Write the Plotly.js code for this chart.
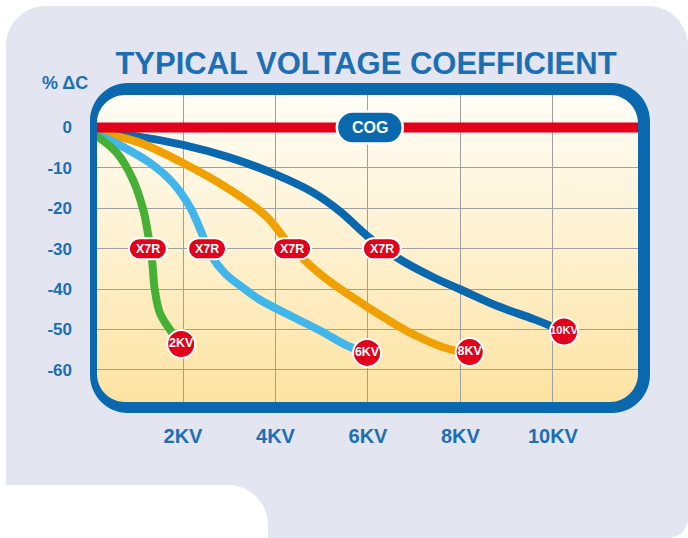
<!DOCTYPE html>
<html><head><meta charset="utf-8">
<script src="https://cdn.plot.ly/plotly-3.0.1.min.js"></script>
<style>html,body{margin:0;padding:0;background:#fff;}#chart{width:688px;height:538px;}</style>
</head><body><div id="chart"></div>
<script>
// ---------- data ----------
const xTickVals = [2, 4, 6, 8, 10];
const xTickText = ['2KV', '4KV', '6KV', '8KV', '10KV'];
const yTickVals = [0, -10, -20, -30, -40, -50, -60];
const yTickText = ['0', '-10', '-20', '-30', '-40', '-50', '-60'];

const cogKv = [0, 12];
const cogPct = [0, 0];

const kv2 = [0, 0.57, 0.92, 1.14, 1.24, 1.33, 1.39, 1.50, 1.72, 1.96];
const pct2 = [-1, -6.3, -13.0, -20.4, -26.1, -32.8, -40.2, -45.9, -50.1, -53.6];
const kv6 = [0, 0.70, 1.29, 1.78, 2.15, 2.40, 2.60, 2.90, 3.30, 3.67, 4.38, 5.00, 5.55, 5.98];
const pct6 = [-1, -4.8, -8.8, -13.7, -19.7, -26.0, -31.5, -36.0, -39.7, -42.7, -46.9, -50.5, -54.0, -55.8];
const kv8 = [0, 1.00, 2.00, 3.00, 3.80, 4.36, 5.00, 6.00, 7.00, 7.80, 8.20];
const pct8 = [-1, -3.5, -8.8, -15.3, -22.0, -29.8, -36.6, -44.5, -51.3, -55.0, -55.6];
const kv10 = [0, 1.00, 2.00, 3.00, 4.00, 4.80, 5.40, 6.00, 6.60, 7.40, 8.00, 8.80, 9.60, 10.24];
const pct10 = [-1, -2.2, -4.3, -7.4, -11.6, -16.0, -20.8, -27.0, -32.0, -37.0, -40.1, -44.2, -47.5, -50.5];
const endLabels = ['2KV', '6KV', '8KV', '10KV'];

const x7rKv = [1.24, 2.52, 4.36, 6.30];
const x7rPct = [-30, -30, -30, -30];
const x7rText = 'X7R';
const cogText = 'COG';
const cogLabelKv = 6.04;
const cogLabelPct = 0;

// ---------- styling ----------
const BLUE = '#0a69ae', TXT = '#1c6fb4', RED = '#e2001a';
const SANS = 'Liberation Sans, Arial, Helvetica, sans-serif';
const ML = 97, MR = 50, MT = 95, MB = 136, W = 688, H = 538;
const PB = H - MB; // plot bottom pixel

// page-pixel -> anchor-relative pixel (y up) for paper-anchored pixel shapes
const P = (x, y) => (x - ML) + ',' + (PB - y);
const Q = (x, y) => x + ',' + (-y);   // centred pill coords (screen-like) -> y up

function rr(l, t, r, b, rad, ccw, map) {
  const k = 0.5523 * rad;
  if (!ccw) {
    return 'M' + map(l + rad, t) + ' L' + map(r - rad, t) +
      ' C' + map(r - rad + k, t) + ' ' + map(r, t + rad - k) + ' ' + map(r, t + rad) +
      ' L' + map(r, b - rad) +
      ' C' + map(r, b - rad + k) + ' ' + map(r - rad + k, b) + ' ' + map(r - rad, b) +
      ' L' + map(l + rad, b) +
      ' C' + map(l + rad - k, b) + ' ' + map(l, b - rad + k) + ' ' + map(l, b - rad) +
      ' L' + map(l, t + rad) +
      ' C' + map(l, t + rad - k) + ' ' + map(l + rad - k, t) + ' ' + map(l + rad, t) + ' Z';
  }
  return 'M' + map(l + rad, t) +
    ' C' + map(l + rad - k, t) + ' ' + map(l, t + rad - k) + ' ' + map(l, t + rad) +
    ' L' + map(l, b - rad) +
    ' C' + map(l, b - rad + k) + ' ' + map(l + rad - k, b) + ' ' + map(l + rad, b) +
    ' L' + map(r - rad, b) +
    ' C' + map(r - rad + k, b) + ' ' + map(r, b - rad + k) + ' ' + map(r, b - rad) +
    ' L' + map(r, t + rad) +
    ' C' + map(r, t + rad - k) + ' ' + map(r - rad + k, t) + ' ' + map(r - rad, t) + ' Z';
}

const innerCCW = rr(97, 95, 638, 402, 28, true, P);
const outerCW = rr(90, 83, 650, 413, 38, false, P);
const kk = 0.5523;
const panel = 'M' + P(6, 46) +
  ' C' + P(6, 46 - 40 * kk) + ' ' + P(46 - 40 * kk, 6) + ' ' + P(46, 6) +
  ' L' + P(648, 6) +
  ' C' + P(648 + 40 * kk, 6) + ' ' + P(688, 46 - 40 * kk) + ' ' + P(688, 46) +
  ' L' + P(688, 518) +
  ' C' + P(688, 518 + 20 * kk) + ' ' + P(668 + 20 * kk, 538) + ' ' + P(668, 538) +
  ' L' + P(268, 538) + ' L' + P(268, 525) +
  ' C' + P(268, 525 - 40 * kk) + ' ' + P(228 + 40 * kk, 485) + ' ' + P(228, 485) +
  ' L' + P(6, 485) + ' Z ' + innerCCW;

const decoBase = {xref: 'paper', yref: 'paper', xsizemode: 'pixel', ysizemode: 'pixel', xanchor: 0, yanchor: 0};

const shapes = [
  Object.assign({type: 'path', path: panel, fillcolor: '#e3e5f1', line: {width: 0}, layer: 'below', fillrule: 'evenodd'}, decoBase),
  Object.assign({type: 'path', path: outerCW + ' ' + innerCCW, fillcolor: BLUE, line: {width: 0}, layer: 'above', fillrule: 'evenodd'}, decoBase)
];
// COG pill
shapes.push({type: 'path', xref: 'x', yref: 'y', xsizemode: 'pixel', ysizemode: 'pixel',
  xanchor: cogLabelKv, yanchor: cogLabelPct, path: rr(-33, -16, 33, 16, 16, false, Q),
  fillcolor: BLUE, line: {color: '#ffffff', width: 2.5}, layer: 'above'});
// X7R pills
x7rKv.forEach((xv, i) => shapes.push({type: 'path', xref: 'x', yref: 'y', xsizemode: 'pixel', ysizemode: 'pixel',
  xanchor: xv, yanchor: x7rPct[i], path: rr(-19, -10.5, 19, 10.5, 10.5, false, Q),
  fillcolor: RED, line: {color: '#ffffff', width: 2}, layer: 'above'}));

const annotations = [
  {xref: 'x', yref: 'y', x: cogLabelKv, y: cogLabelPct, text: cogText, showarrow: false,
   font: {family: SANS, size: 16, color: '#ffffff', weight: 700}, xanchor: 'center', yanchor: 'middle'},
  {xref: 'paper', yref: 'paper', x: (65 - ML) / (W - ML - MR), y: (PB - 83) / (H - MT - MB), text: '% ΔC', showarrow: false,
   font: {family: SANS, size: 18, color: TXT, weight: 700}, xanchor: 'center', yanchor: 'middle'}
];
x7rKv.forEach((xv, i) => annotations.push({xref: 'x', yref: 'y', x: xv, y: x7rPct[i], text: x7rText, showarrow: false,
  font: {family: SANS, size: 12.5, color: '#ffffff', weight: 700}, xanchor: 'center', yanchor: 'middle'}));

const curves = [
  {name: '10KV', x: kv10, y: pct10, color: BLUE},
  {name: '8KV', x: kv8, y: pct8, color: '#f0a000'},
  {name: '6KV', x: kv6, y: pct6, color: '#41b6ea'},
  {name: '2KV', x: kv2, y: pct2, color: '#45b035'}
];
const traces = curves.map(c => ({type: 'scatter', mode: 'lines', x: c.x, y: c.y, name: c.name,
  line: {color: c.color, width: 8, shape: 'spline', smoothing: 1}, hoverinfo: 'skip'}));
traces.push({type: 'scatter', mode: 'lines', x: cogKv, y: cogPct, name: 'COG', line: {color: RED, width: 10}, hoverinfo: 'skip'});
const order = ['2KV', '6KV', '8KV', '10KV'];
const ends = order.map(n => curves.find(c => c.name === n));
traces.push({type: 'scatter', mode: 'markers+text', cliponaxis: false,
  x: ends.map(c => c.x[c.x.length - 1]), y: ends.map(c => c.y[c.y.length - 1]), text: endLabels,
  textposition: 'middle center', textfont: {family: SANS, size: endLabels.map(t => t.length > 3 ? 11 : 12.5), color: '#ffffff', weight: 700},
  marker: {size: 28, color: RED, line: {color: '#ffffff', width: 2}}, hoverinfo: 'skip'});

const gradSvg = "<svg xmlns='http://www.w3.org/2000/svg' width='10' height='100' preserveAspectRatio='none'>" +
  "<defs><linearGradient id='g' x1='0' y1='0' x2='0' y2='1'>" +
  "<stop offset='0' stop-color='#fffdf6'/><stop offset='0.5' stop-color='#fff1cf'/><stop offset='1' stop-color='#fde3a2'/>" +
  "</linearGradient></defs><rect width='10' height='100' fill='url(#g)'/></svg>";

const layout = {
  width: W, height: H,
  margin: {l: ML, r: MR, t: MT, b: MB, pad: 0},
  paper_bgcolor: '#ffffff', plot_bgcolor: 'rgba(0,0,0,0)',
  showlegend: false, hovermode: false,
  title: {text: 'TYPICAL VOLTAGE COEFFICIENT', font: {family: SANS, size: 31, color: TXT, weight: 700},
    x: 366 / W, xanchor: 'center', xref: 'container', y: 1 - 63 / H, yref: 'container', yanchor: 'middle'},
  xaxis: {range: [0.14, 11.84], tickvals: xTickVals, ticktext: xTickText, showgrid: true, gridcolor: '#a0a0a0', gridwidth: 1,
    zeroline: false, showline: false, ticks: '', ticklabelstandoff: 20, fixedrange: true,
    tickfont: {family: SANS, size: 20, color: TXT, weight: 700}},
  yaxis: {range: [-67.95, 8.04], tickvals: yTickVals, ticktext: yTickText, showgrid: true, gridcolor: '#a0a0a0', gridwidth: 1,
    zeroline: false, showline: false, ticks: '', ticklabelstandoff: 24, fixedrange: true,
    tickfont: {family: SANS, size: 17, color: TXT, weight: 700}},
  images: [{source: 'data:image/svg+xml;charset=utf-8,' + encodeURIComponent(gradSvg), xref: 'paper', yref: 'paper',
    x: 0, y: 1, sizex: 1, sizey: 1, xanchor: 'left', yanchor: 'top', sizing: 'stretch', layer: 'below'}],
  shapes: shapes,
  annotations: annotations
};

Plotly.newPlot('chart', traces, layout, {displayModeBar: false, staticPlot: true});
</script>
</body></html>
